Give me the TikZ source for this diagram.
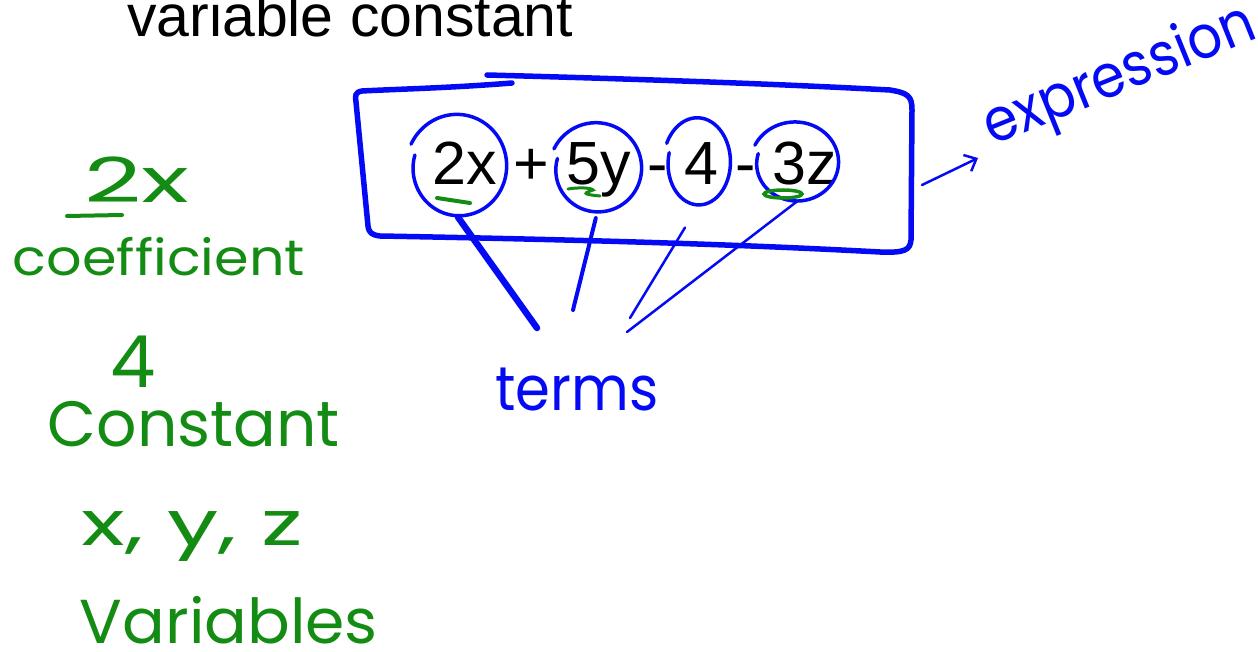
\documentclass[tikz,border=0pt]{standalone}
\usepackage{fontspec}
\setmainfont{Liberation Sans}
\newfontfamily\handfont{Poppins}
\usetikzlibrary{arrows.meta,shapes.geometric}
\definecolor{penblue}{RGB}{5,10,245}
\definecolor{pengreen}{RGB}{20,140,20}
\tikzset{
  handg/.style={text=pengreen, inner sep=0pt, anchor=base},
  handb/.style={text=penblue, inner sep=0pt, anchor=base},
  boxline/.style={draw=penblue, line width=5.5pt, line cap=round, line join=round},
  ringline/.style={draw=penblue, line width=3.5pt, line cap=round},
  termline/.style={draw=penblue, line cap=round},
  greenmark/.style={draw=pengreen, line width=4pt, line cap=round},
  hole/.style={ellipse, inner sep=0pt, draw=none}
}
\newcommand{\handring}[4]{%
  \draw[ringline] plot[smooth, variable=\t, domain=205:555, samples=60]
    ({#1+#3*(1.08-0.15*(\t-205)/350)*cos(\t)},{#2+#4*(1.08-0.15*(\t-205)/350)*sin(\t)});}
\newcommand{\fitw}[2]{\resizebox{#1}{\height}{#2}}
\begin{document}
\begin{tikzpicture}[x=1pt,y=-1pt]
\useasboundingbox (0,0) rectangle (1258,652);
% title
\node[anchor=base west, inner sep=0pt, font=\fontsize{59}{59}\selectfont] (title) at (127,37) {variable constant};
% expression
\node[anchor=base west, inner sep=0pt, font=\fontsize{61}{61}\selectfont] (expr) at (432,185) {2x + 5y - 4 - 3z};
% box
\draw[boxline] (512,83) .. controls (450,88) and (400,89) .. (362,91)
  .. controls (355,92) and (355,96) .. (356,102) -- (368,226)
  .. controls (369,233) and (372,235) .. (380,236)
  .. controls (600,240) and (750,245) .. (880,252)
  .. controls (905,253) and (910,250) .. (911,240) -- (912,110)
  .. controls (912,96) and (908,93) .. (890,90)
  .. controls (760,83) and (600,78) .. (487,75);
% rings
\node[hole, minimum width=96pt, minimum height=100pt] (c1) at (458,167) {};
\node[hole, minimum width=88pt, minimum height=88pt] (c2) at (597,169) {};
\node[hole, minimum width=64pt, minimum height=86pt] (c3) at (698,163) {};
\node[hole, minimum width=84pt, minimum height=78pt] (c4) at (796,163) {};
\handring{458}{167}{48}{50}
\handring{597}{169}{44}{44}
\handring{698}{163}{32}{43}
\handring{796}{163}{42}{39}
% green marks
\draw[greenmark] (437,198) -- (470,203);
\draw[greenmark, line width=3pt] (568,189) .. controls (580,187) and (592,188) .. (593,190)
  .. controls (585,193) and (580,194) .. (600,196);
\draw[greenmark, line width=3.5pt] (783,194) ellipse [x radius=19, y radius=4];
% term lines
\coordinate (e1) at (537,328);
\coordinate (e2) at (573,310);
\coordinate (e3) at (630,318);
\coordinate (e4) at (627,332);
\draw[termline, line width=6.5pt] (c1.south) -- (e1);
\draw[termline, line width=4pt, shorten <=5pt] (c2.south) -- (e2);
\draw[termline, line width=2.5pt, shorten <=25pt] (c3.south) -- (e3);
\draw[termline, line width=2.5pt] (c4.south) -- (e4);
\node[handb, font=\handfont\fontsize{62}{62}\selectfont] (terms) at (577,410) {\fitw{163pt}{terms}};
% arrow and expression label
\coordinate (a0) at (922,185);
\coordinate (a1) at (978,158);
\draw[penblue, line width=2.5pt, line cap=round, -{Straight Barb[length=10pt,width=18pt]}] (a0) -- (a1);
\node[handb, rotate=22, font=\handfont\fontsize{60}{60}\selectfont] (exprlabel) at (1126,92) {\fitw{288pt}{expression}};
% green notes
\node[handg, font=\handfont\fontsize{62}{62}\selectfont] (twox) at (137,203) {\fitw{105pt}{2x}};
\draw[greenmark] (67,216) -- (122,215);
\node[handg, font=\handfont\fontsize{50}{50}\selectfont] (coef) at (159,276) {\fitw{292pt}{coefficient}};
\node[handg, font=\handfont\fontsize{72}{72}\selectfont] (four) at (133,387) {4};
\node[handg, font=\handfont\fontsize{64}{64}\selectfont] (const) at (194,446) {\fitw{292pt}{Constant}};
\node[handg, font=\handfont\fontsize{62}{62}\selectfont] (xyz) at (192,545) {\fitw{221pt}{x, y, z}};
\node[handg, font=\handfont\fontsize{62}{62}\selectfont] (vars) at (229,643) {\fitw{298pt}{Variables}};
\end{tikzpicture}
\end{document}
